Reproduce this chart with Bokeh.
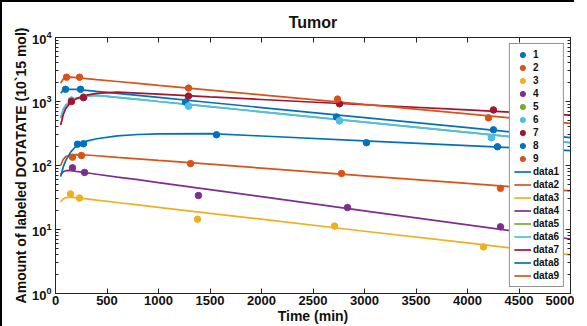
from bokeh.plotting import figure
from bokeh.models import (LogAxis, LinearAxis, Legend, LegendItem, LogTicker,
                          FixedTicker, ColumnDataSource, CustomLabelingPolicy)
from bokeh.embed import file_html
from bokeh.resources import INLINE

# ---------------- data ----------------
colors = ["#0072BD", "#D95319", "#EDB120", "#7E2F8E", "#77AC30",
          "#4DBEEE", "#A2142F", "#0072BD", "#D95319"]

# measured points
pt_t1 = [97, 243, 1262, 2728, 4252]
pt_v1 = [1550, 1550, 980, 575, 361]
pt_t2 = [165, 252, 1311, 2777, 4320]
pt_v2 = [135, 143, 107, 75, 44]
pt_t3 = [146, 233, 1379, 2709, 4155]
pt_v3 = [36, 31, 14.5, 11.3, 5.35]
pt_t4 = [165, 282, 1388, 2835, 4320]
pt_v4 = [92, 78, 34, 22, 11]
pt_t5 = [155, 272, 1291, 2757, 4233]
pt_v5 = [1050, 1170, 850, 500, 272]
pt_t6 = [155, 272, 1291, 2757, 4233]
pt_v6 = [1050, 1170, 850, 500, 272]
pt_t7 = [155, 272, 1291, 2757, 4252]
pt_v7 = [1000, 1150, 1217, 920, 738]
pt_t8 = [214, 272, 1563, 3019, 4291]
pt_v8 = [215, 219, 302, 227, 196]
pt_t9 = [107, 233, 1291, 2738, 4204]
pt_v9 = [2400, 2400, 1620, 1090, 555]

# fitted curves
curve_t = [50, 75, 100, 150, 200, 300, 400, 600, 800, 1000, 1500, 2000, 3000, 4000, 5000]
fit1 = [1350, 1500, 1550, 1550, 1550, 1495, 1440, 1340, 1245, 1160, 965, 805, 560, 390, 272]
fit2 = [100, 125, 138, 146, 148, 146, 142, 134, 127, 120, 105, 91, 69, 52.5, 40]
fit3 = [27, 30, 31.5, 32, 31.3, 30, 28.7, 26.4, 24.2, 22.2, 17.9, 14.5, 9.4, 6.2, 4.0]
fit4 = [72, 80, 83, 84, 81, 77, 73, 66, 60, 54, 42, 32.6, 19.6, 11.8, 7.1]
fit5 = [550, 750, 880, 1020, 1120, 1210, 1250, 1160, 1080, 1000, 830, 690, 477, 329, 227]
fit6 = [550, 750, 880, 1020, 1120, 1210, 1250, 1160, 1080, 1000, 830, 690, 477, 329, 227]
fit7 = [430, 620, 780, 980, 1100, 1260, 1340, 1400, 1350, 1300, 1180, 1075, 890, 738, 611]
fit8 = [67, 95, 120, 165, 200, 240, 262, 290, 305, 312, 315, 289, 243, 204, 171]
fit9 = [1940, 2250, 2380, 2400, 2360, 2280, 2200, 2055, 1920, 1790, 1510, 1270, 900, 640, 454]

x_ticks = [0, 500, 1000, 1500, 2000, 2500, 3000, 3500, 4000, 4500, 5000]

pt_t = [pt_t1, pt_t2, pt_t3, pt_t4, pt_t5, pt_t6, pt_t7, pt_t8, pt_t9]
pt_v = [pt_v1, pt_v2, pt_v3, pt_v4, pt_v5, pt_v6, pt_v7, pt_v8, pt_v9]
fits = [fit1, fit2, fit3, fit4, fit5, fit6, fit7, fit8, fit9]

FONT = "Liberation Sans"

p = figure(frame_width=515, frame_height=256, x_range=(0, 5000), y_range=(1, 10000),
           y_axis_type="log", output_backend="svg", toolbar_location=None,
           min_border_left=0, min_border_right=0, min_border_top=0,
           min_border_bottom=0, title="Tumor")
p.styles = {"border-top": "2px solid black", "border-left": "2px solid black",
            "padding-top": "6px", "padding-left": "7px"}

p.title.align = "center"
p.title.text_font = FONT
p.title.text_font_size = "16px"
p.title.text_font_style = "bold"
p.title.text_color = "#111111"
p.title.offset = 0
p.title.standoff = 6

p.grid.visible = False
p.outline_line_color = "#262626"
p.outline_line_width = 1

line_r = []
scat_r = []
for i in range(9):
    src_l = ColumnDataSource(dict(t=curve_t, v=fits[i]))
    r = p.line("t", "v", source=src_l, line_color=colors[i], line_width=1.7)
    line_r.append(r)
for i in range(9):
    src_p = ColumnDataSource(dict(t=pt_t[i], v=pt_v[i]))
    s = p.scatter("t", "v", source=src_p, size=6.5, fill_color=colors[i],
                  line_color=colors[i])
    scat_r.append(s)

def style_axis(ax, size="13px"):
    ax.axis_line_color = "#262626"
    ax.major_tick_line_color = "#262626"
    ax.minor_tick_line_color = "#262626"
    ax.major_tick_in = 5
    ax.major_tick_out = 0
    ax.minor_tick_in = 3
    ax.minor_tick_out = 0
    ax.major_label_text_font = FONT
    ax.major_label_text_font_style = "bold"
    ax.major_label_text_color = "#111111"
    ax.major_label_text_font_size = size
    ax.axis_label_text_font = FONT
    ax.axis_label_text_font_style = "bold"
    ax.axis_label_text_color = "#111111"
    ax.axis_label_text_font_size = "14px"

def hidden_labels(ax):
    ax.major_label_text_font_size = "1px"
    ax.major_label_policy = CustomLabelingPolicy(code="return new Set()")

xt = FixedTicker(ticks=x_ticks, minor_ticks=[])
p.xaxis.ticker = xt
style_axis(p.xaxis[0])
p.xaxis.axis_label = "Time (min)"
p.xaxis.axis_label_standoff = 0
p.xaxis.major_label_standoff = 2

yt = LogTicker(num_minor_ticks=10)
p.yaxis.ticker = yt
style_axis(p.yaxis[0])
p.yaxis.axis_label = "Amount of labeled DOTATATE (10`15 mol)"
p.yaxis.axis_label_standoff = 0
p.yaxis.major_label_standoff = 4

# frame ticks on top and right
top = LinearAxis(ticker=FixedTicker(ticks=x_ticks, minor_ticks=[]))
style_axis(top)
hidden_labels(top)
top.major_label_standoff = 0
p.add_layout(top, "above")
right = LogAxis(ticker=LogTicker(num_minor_ticks=10))
style_axis(right)
hidden_labels(right)
right.major_label_standoff = 0
p.add_layout(right, "right")

items = [LegendItem(label=str(i + 1), renderers=[scat_r[i]]) for i in range(9)]
items += [LegendItem(label="data%d" % (i + 1), renderers=[line_r[i]]) for i in range(9)]
legend = Legend(items=items, location="top_right", margin=6, padding=4,
                spacing=0, glyph_width=17, glyph_height=13, label_height=13,
                label_standoff=2, label_text_font=FONT,
                label_text_font_style="bold", label_text_font_size="10px",
                label_text_color="#111111", border_line_color="#262626",
                border_line_width=1, background_fill_alpha=1)
p.add_layout(legend)

open("out.html", "w").write(file_html(p, INLINE))
